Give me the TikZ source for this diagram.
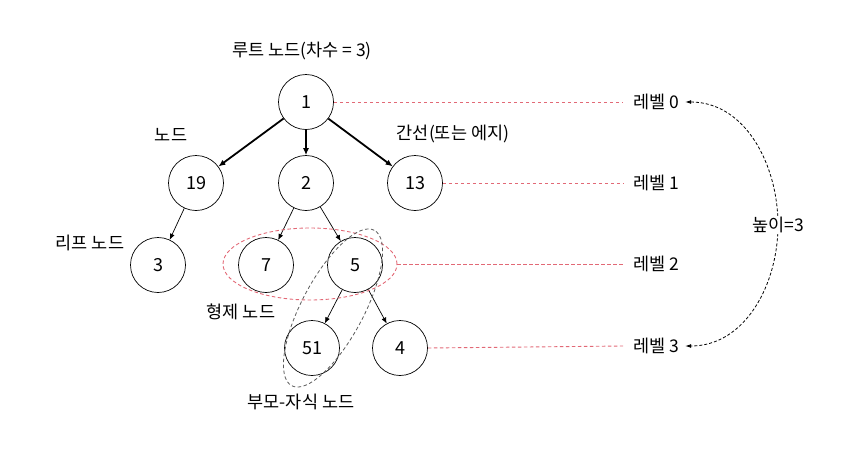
\documentclass[tikz,border=0pt]{standalone}
\usepackage{fontspec}
\setmainfont{Noto Sans CJK KR}
\usetikzlibrary{arrows.meta}
\definecolor{lvl}{RGB}{226,105,118}
\definecolor{grp}{RGB}{90,90,90}
\begin{document}
\begin{tikzpicture}[x=1pt,y=-1pt,
  tnode/.style={circle,draw,line width=0.7pt,minimum size=55pt,inner sep=0pt,font=\fontsize{18}{20}\selectfont},
  lbl/.style={font=\fontsize{17.5}{20}\selectfont,inner sep=1pt},
  thick edge/.style={line width=1.8pt,-{Latex[length=7pt,width=6pt]}},
  thin edge/.style={line width=0.7pt,-{Latex[length=6pt,width=5pt]}},
  lvline/.style={lvl,dashed,dash pattern=on 3.5pt off 2.5pt,line width=0.9pt},
]
\useasboundingbox (0,0) rectangle (859,448);
\node[tnode] (n1) at (306,102) {1};
\node[tnode] (n19) at (196,183) {19};
\node[tnode] (n2) at (306,183) {2};
\node[tnode] (n13) at (415,183) {13};
\node[tnode] (n3) at (158,265) {3};
\node[tnode] (n7) at (266,265) {7};
\node[tnode] (n5) at (355,265) {5};
\node[tnode] (n51) at (312,348) {51};
\node[tnode] (n4) at (400,348) {4};

\draw[thick edge] (n1) -- (n19);
\draw[thick edge] (n1) -- (n2);
\draw[thick edge] (n1) -- (n13);
\draw[thin edge] (n19) -- (n3);
\draw[thin edge] (n2) -- (n7);
\draw[thin edge] (n2) -- (n5);
\draw[thin edge] (n5) -- (n51);
\draw[thin edge] (n5) -- (n4);

% groups
\coordinate (sib) at (310,264);
\draw[lvline] (sib) ellipse [x radius=87pt, y radius=36pt];
\coordinate (sibE) at (397,264);
\coordinate (pc) at (333,308);
\draw[grp,dashed,dash pattern=on 3.5pt off 2.5pt,line width=0.8pt,rotate around={62:(pc)}] (pc) ellipse [x radius=88pt, y radius=31pt];

% level labels
\node[lbl,anchor=west] (L0) at (632,102) {레벨 0};
\node[lbl,anchor=west] (L1) at (632,183) {레벨 1};
\node[lbl,anchor=west] (L2) at (632,264) {레벨 2};
\node[lbl,anchor=west] (L3) at (632,346) {레벨 3};
\draw[lvline] (n1.east) -- ([xshift=-9pt]L0.west);
\draw[lvline] (n13.east) -- ([xshift=-9pt]L1.west);
\draw[lvline] (sibE) -- ([xshift=-9pt]L2.west);
\draw[lvline] (n4.east) -- ([xshift=-9pt]L3.west);

% height
\coordinate (hm) at (778,225);
\draw[dashed,dash pattern=on 3pt off 2pt,line width=0.8pt,{Latex[length=6pt,width=4pt]}-{Latex[length=6pt,width=4pt]}]
  ([xshift=5pt]L0.east) to[out=0,in=90] (hm) to[out=-90,in=0] ([xshift=5pt]L3.east);
\node[lbl,fill=white] (H) at (hm) {높이=3};

% annotations
\node[lbl] (root) at (302,51) {루트 노드(차수 = 3)};
\node[lbl] (nd) at (171,135) {노드};
\node[lbl] (edge) at (453,134) {간선(또는 에지)};
\node[lbl] (leaf) at (90,243) {리프 노드};
\node[lbl] (sibl) at (241,312) {형제 노드};
\node[lbl] (pcl) at (301,402) {부모-자식 노드};
\end{tikzpicture}
\end{document}
